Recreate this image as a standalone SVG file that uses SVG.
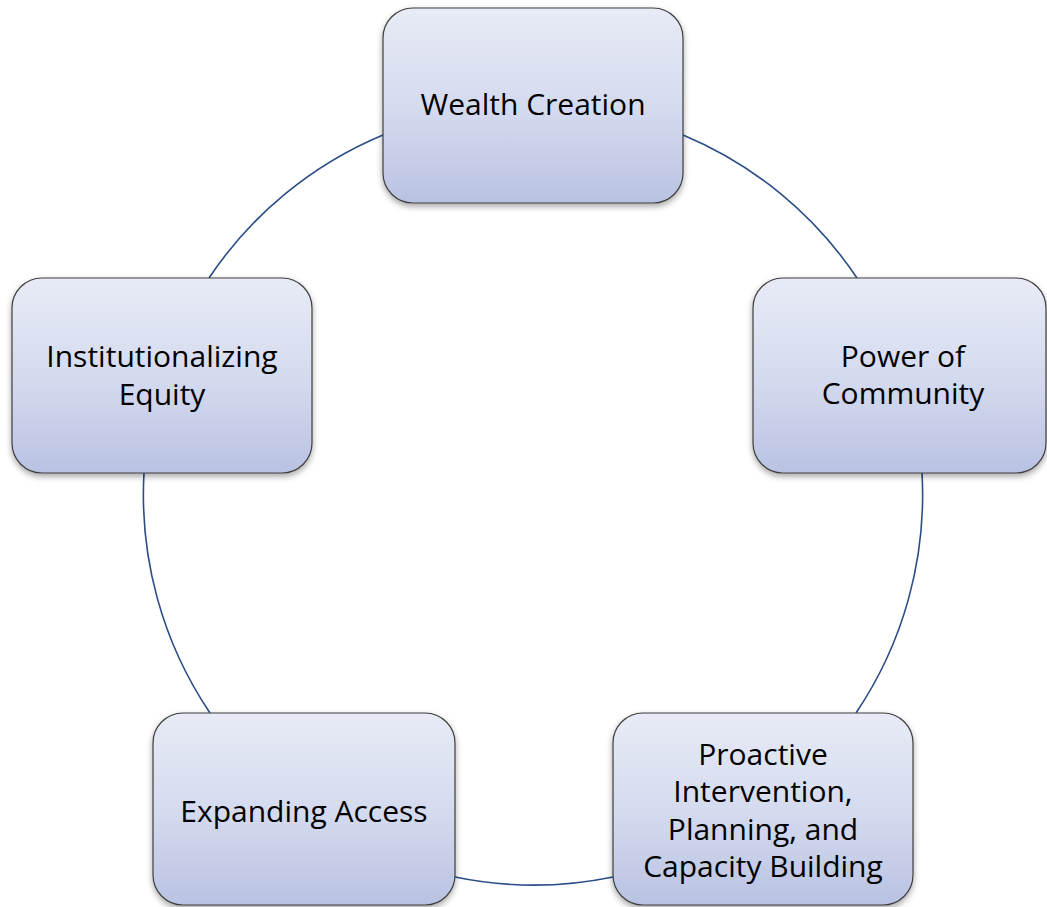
<svg xmlns="http://www.w3.org/2000/svg" width="1047" height="907" viewBox="0 0 1047 907">
<style>
.box{fill:url(#g);stroke:#3f3f3f;stroke-width:1.2;filter:url(#sh)}
.lbl{font-family:"Open Sans","Liberation Sans",sans-serif;font-size:30px;fill:#000;text-anchor:middle}
.arc{fill:none;stroke:#2a4d86;stroke-width:1.6}
</style>
<defs>
<linearGradient id="g" x1="0" y1="0" x2="0" y2="1">
<stop offset="0" stop-color="#e8ebf6"/>
<stop offset="0.5" stop-color="#d5dbef"/>
<stop offset="1" stop-color="#b9c2e2"/>
</linearGradient>
<filter id="sh" x="-10%" y="-10%" width="120%" height="130%">
<feDropShadow dx="0" dy="3" stdDeviation="3" flood-color="#000" flood-opacity="0.35"/>
</filter>
</defs>
<rect width="1047" height="907" fill="#fff"/>
<g id="connectors">
<path class="arc" d="M683,135 A390,390 0 0 1 857,278"/>
<path class="arc" d="M922,473 A390,390 0 0 1 856,713"/>
<path class="arc" d="M613,877 A390,390 0 0 1 455,877"/>
<path class="arc" d="M210,713 A390,390 0 0 1 144,473"/>
<path class="arc" d="M209,278 A390,390 0 0 1 383,135"/>
</g>
<g id="wealth">
<rect class="box" x="383" y="8" width="300" height="195" rx="30"/>
<text class="lbl" x="533" y="115">Wealth Creation</text>
</g>
<g id="power">
<rect class="box" x="753" y="278" width="293" height="195" rx="30"/>
<text class="lbl" x="903" y="367">Power of</text>
<text class="lbl" x="903" y="404">Community</text>
</g>
<g id="proactive">
<rect class="box" x="613" y="713" width="300" height="192" rx="30"/>
<text class="lbl" x="763" y="765">Proactive</text>
<text class="lbl" x="763" y="802">Intervention,</text>
<text class="lbl" x="763" y="840">Planning, and</text>
<text class="lbl" x="763" y="877">Capacity Building</text>
</g>
<g id="expanding">
<rect class="box" x="153" y="713" width="302" height="192" rx="30"/>
<text class="lbl" x="304" y="822">Expanding Access</text>
</g>
<g id="institutionalizing">
<rect class="box" x="12" y="278" width="300" height="195" rx="30"/>
<text class="lbl" x="162" y="367">Institutionalizing</text>
<text class="lbl" x="162" y="405">Equity</text>
</g>
</svg>
